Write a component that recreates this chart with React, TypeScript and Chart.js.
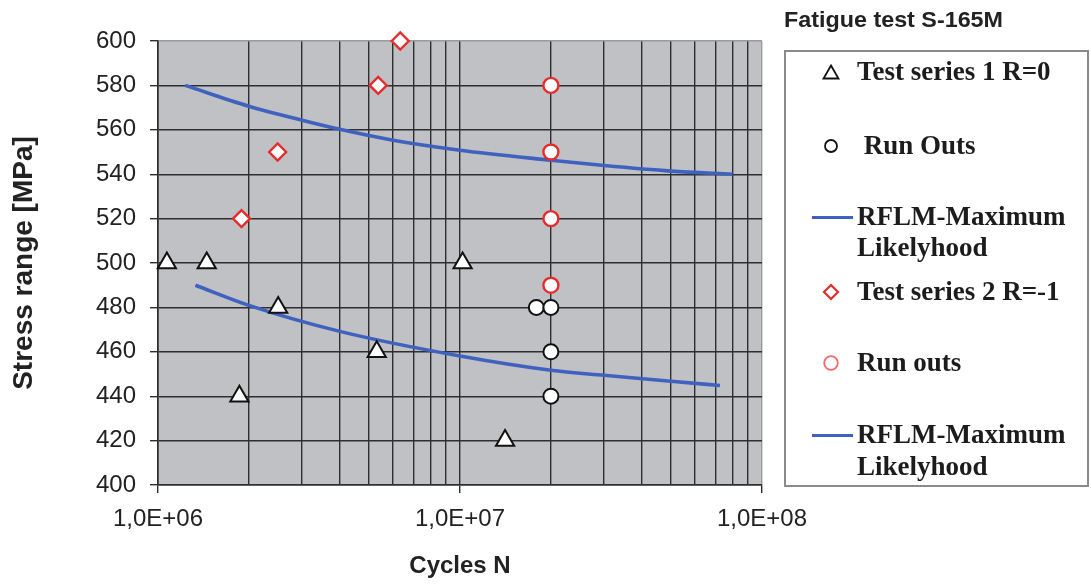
import React, { useEffect, useRef } from "react";
import { Chart, registerables } from "chart.js";

Chart.register(...registerables);

// ---- data ----
const xMin = 1e6;
const xMax = 1e8;
const yMin = 400;
const yMax = 600;
const yStep = 20;

const majorTicks = [1e6, 1e7, 1e8];
const xTickLabels = ["1,0E+06", "1,0E+07", "1,0E+08"];
const xGridValues = [
  1e6, 2e6, 3e6, 4e6, 5e6, 6e6, 7e6, 8e6, 9e6,
  1e7, 2e7, 3e7, 4e7, 5e7, 6e7, 7e7, 8e7, 9e7,
  1e8,
];

const series1N = [1.07e6, 1.45e6, 1.86e6, 2.5e6, 5.3e6, 1.02e7, 1.41e7];
const series1S = [500, 500, 440, 480, 460, 500, 420];

const runOuts1N = [1.79e7, 2.0e7, 2.0e7, 2.0e7];
const runOuts1S = [480, 480, 460, 440];

const series2N = [1.89e6, 2.49e6, 5.36e6, 6.34e6];
const series2S = [520, 550, 580, 600];

const runOuts2N = [2.0e7, 2.0e7, 2.0e7, 2.0e7];
const runOuts2S = [580, 550, 520, 490];

const rflm1N = [1.33e6, 2e6, 4e6, 1e7, 2e7, 3e7, 5e7, 7.26e7];
const rflm1S = [490, 480.9, 469.2, 458.1, 451.7, 449.4, 446.7, 444.8];

const rflm2N = [1.23e6, 2e6, 3e6, 4e6, 6e6, 1e7, 2e7, 3e7, 5e7, 8e7];
const rflm2S = [580, 570.6, 564.3, 560.2, 555.3, 550.8, 546.3, 543.9, 541.4, 540];

// ---- styles ----
const PLOT_BG = "#c0c1c5";
const GRID = "#2e2e2e";
const EDGE = "#9a9a9a";
const BLUE = "#4062bf";
const RED = "#e52b2b";
const SANS = "'Liberation Sans', Arial, sans-serif";
const SERIF = "'Liberation Serif', 'Times New Roman', serif";

const pts = (xs: number[], ys: number[]) => xs.map((x, i) => ({ x, y: ys[i] }));

function LegendText({ left, cy, children }: { left: number; cy: number; children: React.ReactNode }) {
  return (
    <div
      style={{
        position: "absolute",
        left,
        top: cy - 16,
        height: 32,
        lineHeight: "32px",
        font: `bold 27px ${SERIF}`,
        color: "#1c1c1c",
        whiteSpace: "pre",
      }}
    >
      {children}
    </div>
  );
}

function Sym({ cx, cy, children }: { cx: number; cy: number; children: React.ReactNode }) {
  return (
    <svg
      width={20}
      height={20}
      viewBox="0 0 20 20"
      style={{ position: "absolute", left: cx - 10, top: cy - 10 }}
    >
      {children}
    </svg>
  );
}

function LegendLine({ cy }: { cy: number }) {
  return (
    <div
      style={{
        position: "absolute",
        left: 812,
        top: cy - 1.5,
        width: 41,
        height: 3,
        background: BLUE,
      }}
    />
  );
}

export default function App() {
  const ref = useRef<HTMLCanvasElement>(null);

  useEffect(() => {
    if (!ref.current) return;
    const bgPlugin = {
      id: "plotBg",
      beforeDraw(chart: any) {
        const { ctx, chartArea: a } = chart;
        ctx.save();
        ctx.fillStyle = PLOT_BG;
        ctx.fillRect(a.left, a.top, a.right - a.left, a.bottom - a.top);
        ctx.restore();
      },
    };

    const chart = new Chart(ref.current, {
      type: "scatter",
      data: {
        datasets: [
          {
            label: "Test series 1 R=0",
            data: pts(series1N, series1S),
            pointStyle: "triangle",
            pointRadius: 10.5,
            pointBackgroundColor: "#ffffff",
            pointBorderColor: "#111111",
            pointBorderWidth: 2,
            showLine: false,
            clip: false,
            order: 1,
          },
          {
            label: "Run Outs",
            data: pts(runOuts1N, runOuts1S),
            pointStyle: "circle",
            pointRadius: 7.5,
            pointBackgroundColor: "#ffffff",
            pointBorderColor: "#111111",
            pointBorderWidth: 2,
            showLine: false,
            clip: false,
            order: 1,
          },
          {
            label: "Test series 2 R=-1",
            data: pts(series2N, series2S),
            pointStyle: "rectRot",
            pointRadius: 8.5,
            pointBackgroundColor: "#ffffff",
            pointBorderColor: RED,
            pointBorderWidth: 2.4,
            showLine: false,
            clip: false,
            order: 1,
          },
          {
            label: "Run outs",
            data: pts(runOuts2N, runOuts2S),
            pointStyle: "circle",
            pointRadius: 7.5,
            pointBackgroundColor: "#ffffff",
            pointBorderColor: RED,
            pointBorderWidth: 2.4,
            showLine: false,
            clip: false,
            order: 1,
          },
          {
            label: "RFLM-Maximum Likelyhood",
            data: pts(rflm1N, rflm1S),
            showLine: true,
            borderColor: BLUE,
            borderWidth: 3.6,
            pointRadius: 0,
            cubicInterpolationMode: "monotone",
            order: 2,
          },
          {
            label: "RFLM-Maximum Likelyhood",
            data: pts(rflm2N, rflm2S),
            showLine: true,
            borderColor: BLUE,
            borderWidth: 3.6,
            pointRadius: 0,
            cubicInterpolationMode: "monotone",
            order: 2,
          },
        ],
      },
      options: {
        animation: false,
        responsive: false,
        maintainAspectRatio: false,
        events: [],
        layout: { padding: { top: 41, right: 329, left: 0, bottom: 0 } },
        plugins: {
          legend: { display: false },
          tooltip: { enabled: false },
          title: { display: false },
        },
        scales: {
          x: {
            type: "logarithmic",
            min: xMin,
            max: xMax,
            afterBuildTicks: (s: any) => {
              s.ticks = xGridValues.map((v) => ({ value: v, major: majorTicks.includes(v) }));
            },
            afterFit: (s: any) => {
              s.height = 100;
            },
            ticks: {
              autoSkip: false,
              maxRotation: 0,
              minRotation: 0,
              padding: 12,
              color: "#222222",
              font: { family: SANS, size: 24 },
              callback: (v: any) => {
                const i = majorTicks.indexOf(Number(v));
                return i >= 0 ? xTickLabels[i] : "";
              },
            },
            grid: {
              color: (c: any) => (c.tick && c.tick.value === xMax ? EDGE : GRID),
              lineWidth: 1.4,
              tickLength: 8,
              tickColor: (c: any) =>
                c.tick && majorTicks.includes(c.tick.value) ? GRID : "rgba(0,0,0,0)",
            },
            border: { display: true, color: GRID, width: 1.6 },
            title: {
              display: true,
              text: "Cycles N",
              color: "#222222",
              font: { family: SANS, size: 24, weight: "bold" },
              padding: { top: 0, bottom: 4 },
            },
          },
          y: {
            type: "linear",
            min: yMin,
            max: yMax,
            afterFit: (s: any) => {
              s.width = 158;
            },
            ticks: {
              stepSize: yStep,
              padding: 14,
              color: "#222222",
              font: { family: SANS, size: 24 },
            },
            grid: {
              color: (c: any) => (c.tick && c.tick.value === yMax ? EDGE : GRID),
              lineWidth: 1.4,
              tickLength: 8,
              tickColor: GRID,
            },
            border: { display: true, color: GRID, width: 1.6 },
            title: {
              display: true,
              text: "Stress range [MPa]",
              color: "#222222",
              font: { family: SANS, size: 28, weight: "bold" },
              padding: { top: 7, bottom: 0 },
            },
          },
        },
      } as any,
      plugins: [bgPlugin],
    });
    return () => chart.destroy();
  }, []);

  return (
    <div
      style={{
        position: "fixed",
        left: 0,
        top: 0,
        width: 1091,
        height: 585,
        background: "#ffffff",
        overflow: "hidden",
      }}
    >
      <canvas ref={ref} width={1091} height={585} style={{ position: "absolute", left: 0, top: 0 }} />

      <div
        style={{
          position: "absolute",
          left: 784,
          top: 7,
          height: 28,
          lineHeight: "28px",
          font: `bold 22px ${SANS}`,
          color: "#222222",
          whiteSpace: "pre",
          transform: "scaleX(1.06)",
          transformOrigin: "left center",
        }}
      >
        Fatigue test S-165M
      </div>

      <div
        style={{
          position: "absolute",
          left: 784,
          top: 50,
          width: 305,
          height: 437,
          boxSizing: "border-box",
          border: "2px solid #8a8a8a",
        }}
      />

      <Sym cx={831} cy={72}>
        <polygon points="10,3.5 17.5,16.5 2.5,16.5" fill="#fff" stroke="#111" strokeWidth={1.8} />
      </Sym>
      <LegendText left={857} cy={72}>Test series 1 R=0</LegendText>

      <Sym cx={831} cy={146}>
        <circle cx={10} cy={10} r={6} fill="#fff" stroke="#111" strokeWidth={1.8} />
      </Sym>
      <LegendText left={857} cy={146}> Run Outs</LegendText>

      <LegendLine cy={217} />
      <LegendText left={857} cy={217}>RFLM-Maximum</LegendText>
      <LegendText left={857} cy={248}>Likelyhood</LegendText>

      <Sym cx={831} cy={292}>
        <polygon points="10,3 17,10 10,17 3,10" fill="#fff" stroke={RED} strokeWidth={2.2} />
      </Sym>
      <LegendText left={857} cy={292}>Test series 2 R=-1</LegendText>

      <Sym cx={831} cy={363}>
        <circle cx={10} cy={10} r={6.8} fill="#fff" stroke="#f06b6b" strokeWidth={1.8} />
      </Sym>
      <LegendText left={857} cy={363}>Run outs</LegendText>

      <LegendLine cy={435} />
      <LegendText left={857} cy={435}>RFLM-Maximum</LegendText>
      <LegendText left={857} cy={467}>Likelyhood</LegendText>
    </div>
  );
}
